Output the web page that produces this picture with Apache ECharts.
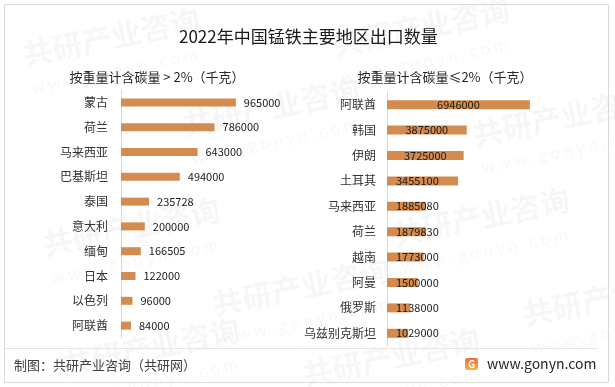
<!DOCTYPE html>
<html>
<head>
<meta charset="utf-8">
<script src="https://cdn.jsdelivr.net/npm/echarts@6/dist/echarts.min.js"></script>
<style>
html,body{margin:0;padding:0;background:#fff;}
#c{width:615px;height:387px;}
</style>
</head>
<body>
<div id="c"></div>
<script>
var titleText = '2022年中国锰铁主要地区出口数量';
var leftTitle = '按重量计含碳量 > 2%（千克）';
var rightTitle = '按重量计含碳量≤2%（千克）';
var leftCategories = ['蒙古','荷兰','马来西亚','巴基斯坦','泰国','意大利','缅甸','日本','以色列','阿联酋'];
var leftValues = [965000, 786000, 643000, 494000, 235728, 200000, 166505, 122000, 96000, 84000];
var rightCategories = ['阿联酋','韩国','伊朗','土耳其','马来西亚','荷兰','越南','阿曼','俄罗斯','乌兹别克斯坦'];
var rightValues = [6946000, 3875000, 3725000, 3455100, 1885080, 1879830, 1773000, 1500000, 1138000, 1029000];
var sourceText = '制图：共研产业咨询（共研网）';
var siteText = 'www.gonyn.com';

var FONT = '"Noto Sans CJK SC", "Noto Sans", sans-serif';
var BAR = '#D38B4F';

var rightData = rightValues.map(function (v) {
  var big = v > 3600000;
  return {
    value: v,
    label: big ? { position: 'inside' } : { position: 'insideLeft', distance: 9 }
  };
});

var wm = [];
var wmPos = [[20,40],[180,110],[330,30],[470,120],[40,230],[210,290],[390,220],[520,300],[60,350],[300,360]];
wmPos.forEach(function (p) {
  wm.push({
    type: 'text', x: p[0], y: p[1], rotation: 0.2, silent: true, z: 0,
    style: { text: '共研产业咨询', font: 'bold 30px ' + FONT, fill: 'rgba(0,0,0,0.035)' }
  });
  wm.push({
    type: 'text', x: p[0] + 10, y: p[1] + 40, rotation: 0.2, silent: true, z: 0,
    style: { text: 'w w w . g o n y n . c o m', font: '16px ' + FONT, fill: 'rgba(0,0,0,0.035)' }
  });
});

var chart = echarts.init(document.getElementById('c'), null, { renderer: 'canvas' });
chart.setOption({
  backgroundColor: '#fff',
  animation: false,
  graphic: wm.concat([
    { type: 'rect', shape: { x: 4.5, y: 4.5, width: 604, height: 378 }, style: { fill: 'none', stroke: '#d9d9d9', lineWidth: 1 }, z: 1 },
    { type: 'line', shape: { x1: 5, y1: 348.5, x2: 598, y2: 348.5 }, style: { stroke: '#e6e6e6', lineWidth: 1 }, z: 1 },
    { type: 'text', x: 179, y: 28, z: 5, style: { text: titleText, font: '17px ' + FONT, fill: '#1a1a1a' } },
    { type: 'text', x: 157, y: 77, z: 5, style: { text: leftTitle, font: '13px ' + FONT, fill: '#262626', textAlign: 'center', textVerticalAlign: 'middle' } },
    { type: 'text', x: 445, y: 77, z: 5, style: { text: rightTitle, font: '13px ' + FONT, fill: '#262626', textAlign: 'center', textVerticalAlign: 'middle' } },
    { type: 'text', x: 14, y: 365, z: 5, style: { text: sourceText, font: '13px ' + FONT, fill: '#404040', textVerticalAlign: 'middle' } },
    { type: 'rect', shape: { x: 465, y: 358, width: 13, height: 12, r: 2 }, z: 5,
      style: { fill: new echarts.graphic.LinearGradient(0, 0, 0, 1, [{ offset: 0, color: '#f06a3a' }, { offset: 1, color: '#f7b443' }]) } },
    { type: 'text', x: 471.5, y: 364, z: 6, style: { text: 'G', font: 'bold 10px ' + FONT, fill: '#fff', textAlign: 'center', textVerticalAlign: 'middle' } },
    { type: 'text', x: 487, y: 364, z: 5, style: { text: siteText, font: '14px ' + FONT, fill: '#262626', textVerticalAlign: 'middle' } }
  ]),
  grid: [
    { left: 121, top: 90, width: 119, height: 248 },
    { left: 387, top: 92, width: 144, height: 254 }
  ],
  xAxis: [
    { gridIndex: 0, type: 'value', min: 0, max: 1000000, show: false },
    { gridIndex: 1, type: 'value', min: 0, max: 7000000, show: false }
  ],
  yAxis: [
    { gridIndex: 0, type: 'category', data: leftCategories, inverse: true,
      axisLine: { lineStyle: { color: '#d9d9d9' } }, axisTick: { show: false },
      axisLabel: { margin: 13, fontSize: 12, color: '#333', fontFamily: FONT } },
    { gridIndex: 1, type: 'category', data: rightCategories, inverse: true,
      axisLine: { lineStyle: { color: '#d9d9d9' } }, axisTick: { show: false },
      axisLabel: { margin: 11, fontSize: 12, color: '#333', fontFamily: FONT } }
  ],
  series: [
    { type: 'bar', xAxisIndex: 0, yAxisIndex: 0, data: leftValues, barWidth: 8,
      itemStyle: { color: BAR },
      label: { show: true, position: 'right', distance: 8, fontSize: 11, color: '#1a1a1a', fontFamily: FONT } },
    { type: 'bar', xAxisIndex: 1, yAxisIndex: 1, data: rightData, barWidth: 9,
      itemStyle: { color: BAR },
      label: { show: true, fontSize: 11, color: '#1a1a1a', fontFamily: FONT } }
  ]
});
</script>
</body>
</html>
